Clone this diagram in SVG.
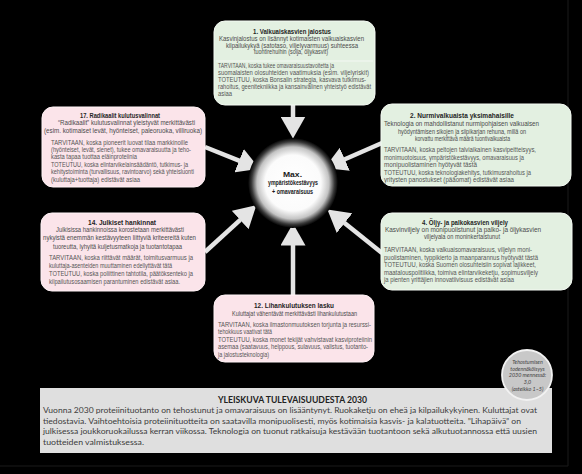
<svg xmlns="http://www.w3.org/2000/svg" width="582" height="474" viewBox="0 0 582 474">
<style>
.bg{fill:#000}
.green{fill:#e3f0e1;stroke:#f4faf3;stroke-width:1}
.pink{fill:#fbe4ea;stroke:#fff3f6;stroke-width:1}
.t{font-family:"Liberation Sans",Arial,sans-serif;font-size:7.2px;font-weight:bold;fill:#1e1e1e}
.s{font-family:"Liberation Sans",Arial,sans-serif;font-size:6.3px;fill:#4a4a4a}
.b{font-family:"Liberation Sans",Arial,sans-serif;font-size:6.3px;fill:#555}
.c{font-family:"Liberation Sans",Arial,sans-serif;font-size:7px;font-weight:bold;fill:#1a1a1a}
.pt{font-family:Lato,"Open Sans",sans-serif;font-size:8.6px;font-weight:bold;fill:#222}
.pb{font-family:Lato,"Open Sans",sans-serif;font-size:8.3px;fill:#3c3c3c}
.g{font-family:Lato,"Open Sans",sans-serif;font-size:5.4px;font-style:italic;fill:#444}
.arr{stroke:#e4e4e4;stroke-width:4.5;fill:none;marker-end:url(#head)}
.sep{stroke:#ffffff;stroke-width:0.8;opacity:0.8}
</style>
<defs>
<marker id="head" viewBox="0 0 22 25" markerWidth="22" markerHeight="25" refX="0.5" refY="12.5" orient="auto" markerUnits="userSpaceOnUse">
<path d="M0,0 L22,12.5 L0,25 z" fill="#e4e4e4"/>
</marker>
<radialGradient id="glow" cx="0.5" cy="0.5" r="0.5">
<stop offset="0" stop-color="#ffffff"/>
<stop offset="0.62" stop-color="#fbfbfb"/>
<stop offset="0.8" stop-color="#c4c4c4"/>
<stop offset="0.92" stop-color="#3a3a3a"/>
<stop offset="1" stop-color="#000"/>
</radialGradient>
</defs>
<rect class="bg" x="0" y="0" width="582" height="474"/>
<path d="M0,466 H568 V0" fill="none" stroke="#1a1a1a" stroke-width="1"/>

<g id="connectors">
<line class="arr" x1="293" y1="105" x2="293" y2="117"/>
<line class="arr" x1="293" y1="295" x2="293" y2="245"/>
<line class="arr" x1="205" y1="147" x2="239.6" y2="160.8"/>
<line class="arr" x1="382" y1="143" x2="344.3" y2="159.5"/>
<line class="arr" x1="205" y1="252" x2="240.5" y2="219.6"/>
<line class="arr" x1="382" y1="253" x2="344.2" y2="222.8"/>
</g>

<g id="center">
<circle cx="293" cy="183" r="45" fill="url(#glow)"/>
<text class="c" x="283" y="176.5" textLength="19" lengthAdjust="spacingAndGlyphs">Max.</text>
<text class="c" x="268" y="185" textLength="50" lengthAdjust="spacingAndGlyphs">ympäristökestävyys</text>
<text class="c" x="272" y="193.5" textLength="41" lengthAdjust="spacingAndGlyphs">+ omavaraisuus</text>
</g>

<g id="node1">
<rect class="green" x="214" y="21" width="161" height="84" rx="11"/>
<text class="t" x="253" y="33.5" textLength="78" lengthAdjust="spacingAndGlyphs">1. Valkuaiskasvien jalostus</text>
<text class="s" x="219" y="41" textLength="145" lengthAdjust="spacingAndGlyphs">Kasvinjalostus on lisännyt kotimaisten valkuaiskasvien</text>
<text class="s" x="226" y="47.5" textLength="132" lengthAdjust="spacingAndGlyphs">kilpailukykyä (satotaso, viljelyvarmuus) suhteessa</text>
<text class="s" x="254" y="54" textLength="74" lengthAdjust="spacingAndGlyphs">tuontirehuihin (soija, öljykasvit)</text>
<line class="sep" x1="216" y1="61" x2="373" y2="61"/>
<text class="b" x="218" y="68" textLength="116" lengthAdjust="spacingAndGlyphs">TARVITAAN, koska tukee omavaraisuustavoitetta ja</text>
<text class="b" x="218" y="75" textLength="151" lengthAdjust="spacingAndGlyphs">suomalaisten olosuhteiden vaatimuksia (esim. viljelyriskit)</text>
<text class="b" x="218" y="82" textLength="148" lengthAdjust="spacingAndGlyphs">TOTEUTUU, koska Bonsalin strategia, kasvava tutkimus-</text>
<text class="b" x="218" y="89" textLength="153" lengthAdjust="spacingAndGlyphs">rahoitus, geenitekniikka ja kansainvälinen yhteistyö edistävät</text>
<text class="b" x="218" y="96" textLength="14" lengthAdjust="spacingAndGlyphs">asiaa</text>
</g>

<g id="node2">
<rect class="green" x="381" y="104" width="190" height="82" rx="11"/>
<text class="t" x="410" y="117.5" textLength="104" lengthAdjust="spacingAndGlyphs">2. Nurmivalkuaista yksimahaisille</text>
<text class="s" x="384" y="126" textLength="155" lengthAdjust="spacingAndGlyphs">Teknologia on mahdollistanut nurmipohjaisen valkuaisen</text>
<text class="s" x="398" y="134" textLength="128" lengthAdjust="spacingAndGlyphs">hyödyntämisen sikojen ja siipikarjan rehuna, millä on</text>
<text class="s" x="415" y="141" textLength="95" lengthAdjust="spacingAndGlyphs">korvattu merkittävä määrä tuontivalkuaista</text>
<text class="b" x="384" y="152" textLength="152" lengthAdjust="spacingAndGlyphs">TARVITAAN, koska peltojen talviaikainen kasvipeitteisyys,</text>
<text class="b" x="384" y="159.5" textLength="140" lengthAdjust="spacingAndGlyphs">monimuotoisuus, ympäristökestävyys, omavaraisuus ja</text>
<text class="b" x="384" y="167" textLength="93" lengthAdjust="spacingAndGlyphs">monipuolistaminen hyötyvät tästä</text>
<text class="b" x="384" y="174.5" textLength="147" lengthAdjust="spacingAndGlyphs">TOTEUTUU, koska teknologiakehitys, tutkimusrahoitus ja</text>
<text class="b" x="384" y="182" textLength="130" lengthAdjust="spacingAndGlyphs">yritysten panostukset (pääomat) edistävät asiaa</text>
</g>

<g id="node17">
<rect class="pink" x="42" y="107" width="163" height="80" rx="11"/>
<text class="t" x="80" y="117.5" textLength="80" lengthAdjust="spacingAndGlyphs">17. Radikaalit kulutusvalinnat</text>
<text class="s" x="58" y="125" textLength="137" lengthAdjust="spacingAndGlyphs">“Radikaalit” kulutusvalinnat yleistyvät merkittävästi</text>
<text class="s" x="44" y="133" textLength="158" lengthAdjust="spacingAndGlyphs">(esim. kotimaiset levät, hyönteiset, paleoruoka, villiruoka)</text>
<text class="b" x="51" y="145" textLength="137" lengthAdjust="spacingAndGlyphs">TARVITAAN, koska pioneerit luovat tilaa markkinoille</text>
<text class="b" x="51" y="152" textLength="140" lengthAdjust="spacingAndGlyphs">(hyönteiset, levät, sienet), tukee omavaraisuutta ja teho-</text>
<text class="b" x="51" y="159" textLength="86" lengthAdjust="spacingAndGlyphs">kasta tapaa tuottaa eläinproteiinia</text>
<text class="b" x="51" y="166.5" textLength="137" lengthAdjust="spacingAndGlyphs">TOTEUTUU, koska elintarvikelainsäädäntö, tutkimus- ja</text>
<text class="b" x="51" y="174" textLength="143" lengthAdjust="spacingAndGlyphs">kehitystoiminta (turvallisuus, ravintoarvo) sekä yhteisluonti</text>
<text class="b" x="51" y="181.5" textLength="89" lengthAdjust="spacingAndGlyphs">(kuluttaja+tuottaja) edistävät asiaa</text>
</g>

<g id="node14">
<rect class="pink" x="41" y="213" width="164" height="78" rx="11"/>
<text class="t" x="88" y="224.5" textLength="68" lengthAdjust="spacingAndGlyphs">14. Julkiset hankinnat</text>
<text class="s" x="56" y="232" textLength="128" lengthAdjust="spacingAndGlyphs">Julkisissa hankinnoissa korostetaan merkittävästi</text>
<text class="s" x="43" y="240" textLength="153" lengthAdjust="spacingAndGlyphs">nykyistä enemmän kestävyyteen liittyviä kriteereitä kuten</text>
<text class="s" x="53" y="248.5" textLength="129" lengthAdjust="spacingAndGlyphs">tuoreutta, lyhyitä kuljetusmatkoja ja tuotantotapaa</text>
<text class="b" x="49" y="260" textLength="144" lengthAdjust="spacingAndGlyphs">TARVITAAN, koska riittävät määrät, toimitusvarmuus ja</text>
<text class="b" x="49" y="268" textLength="123" lengthAdjust="spacingAndGlyphs">kuluttaja-asenteiden muuttaminen edellyttävät tätä</text>
<text class="b" x="49" y="276" textLength="144" lengthAdjust="spacingAndGlyphs">TOTEUTUU, koska poliittinen tahtotila, päätöksenteko ja</text>
<text class="b" x="49" y="284" textLength="131" lengthAdjust="spacingAndGlyphs">kilpailutusosaamisen parantuminen edistävät asiaa.</text>
</g>

<g id="node4">
<rect class="green" x="381" y="213" width="191" height="77" rx="11"/>
<text class="t" x="422" y="224.5" textLength="86" lengthAdjust="spacingAndGlyphs">4. Öljy- ja palkokasvien viljely</text>
<text class="s" x="385" y="232" textLength="156" lengthAdjust="spacingAndGlyphs">Kasvinviljely on monipuolistunut ja palko- ja öljykasvien</text>
<text class="s" x="424" y="239" textLength="76" lengthAdjust="spacingAndGlyphs">viljelyala on moninkertaistunut</text>
<text class="b" x="384" y="252" textLength="148" lengthAdjust="spacingAndGlyphs">TARVITAAN, koska valkuaisomavaraisuus, viljelyn moni-</text>
<text class="b" x="384" y="259.5" textLength="154" lengthAdjust="spacingAndGlyphs">puolistaminen, typpikierto ja maanparannus hyötyvät tästä</text>
<text class="b" x="384" y="267" textLength="152" lengthAdjust="spacingAndGlyphs">TOTEUTUU, koska Suomen olosuhteisiin sopivat lajikkeet,</text>
<text class="b" x="384" y="274.5" textLength="154" lengthAdjust="spacingAndGlyphs">maatalouspolitiikka, toimiva elintarvikeketju, sopimusviljely</text>
<text class="b" x="384" y="282" textLength="130" lengthAdjust="spacingAndGlyphs">ja pienten yrittäjien innovatiivisuus edistävät asiaa</text>
</g>

<g id="node12">
<rect class="pink" x="214" y="295" width="160" height="67" rx="11"/>
<text class="t" x="254" y="307.5" textLength="80" lengthAdjust="spacingAndGlyphs">12. Lihankulutuksen lasku</text>
<text class="s" x="232" y="316" textLength="125" lengthAdjust="spacingAndGlyphs">Kuluttajat vähentävät merkittävästi lihankulutustaan</text>
<text class="b" x="218" y="327" textLength="153" lengthAdjust="spacingAndGlyphs">TARVITAAN, koska ilmastonmuutoksen torjunta ja resurssi-</text>
<text class="b" x="218" y="334" textLength="54" lengthAdjust="spacingAndGlyphs">tehokkuus vaativat tätä</text>
<text class="b" x="218" y="341.5" textLength="154" lengthAdjust="spacingAndGlyphs">TOTEUTUU, koska monet tekijät vahvistavat kasviproteiinin</text>
<text class="b" x="218" y="349" textLength="150" lengthAdjust="spacingAndGlyphs">asemaa (saatavuus, helppous, sulavuus, valistus, tuotanto-</text>
<text class="b" x="218" y="356.5" textLength="51" lengthAdjust="spacingAndGlyphs">ja jalostusteknologia)</text>
</g>

<g id="summary">
<rect x="40" y="388" width="512" height="65" fill="#dfdfdf"/>
<text class="pt" x="218" y="402.5" textLength="149" lengthAdjust="spacingAndGlyphs">YLEISKUVA TULEVAISUUDESTA 2030</text>
<text class="pb" x="43" y="413" textLength="494" lengthAdjust="spacingAndGlyphs">Vuonna 2030 proteiinituotanto on tehostunut ja omavaraisuus on lisääntynyt. Ruokaketju on eheä ja kilpailukykyinen. Kuluttajat ovat</text>
<text class="pb" x="43" y="423.5" textLength="478" lengthAdjust="spacingAndGlyphs">tiedostavia. Vaihtoehtoisia proteiinituotteita on saatavilla monipuolisesti, myös kotimaisia kasvis- ja kalatuotteita. ”Lihapäivä” on</text>
<text class="pb" x="43" y="434" textLength="494" lengthAdjust="spacingAndGlyphs">julkisessa joukkoruokailussa kerran viikossa. Teknologia on tuonut ratkaisuja kestävään tuotantoon sekä alkutuotannossa että uusien</text>
<text class="pb" x="43" y="444.5" textLength="101" lengthAdjust="spacingAndGlyphs">tuotteiden valmistuksessa.</text>
</g>

<g id="probability">
<circle cx="527" cy="375" r="25" fill="#c8c8c8" stroke="#f2f2f2" stroke-width="1.8"/>
<text class="g" x="527.5" y="364" text-anchor="middle">Tehostumisen</text>
<text class="g" x="527.5" y="370.5" text-anchor="middle">todennäköisyys</text>
<text class="g" x="527.5" y="377" text-anchor="middle">2030 mennessä:</text>
<text class="g" x="527.5" y="384" text-anchor="middle">3,0</text>
<text class="g" x="527.5" y="391" text-anchor="middle">(asteikko 1–5)</text>
</g>
</svg>
